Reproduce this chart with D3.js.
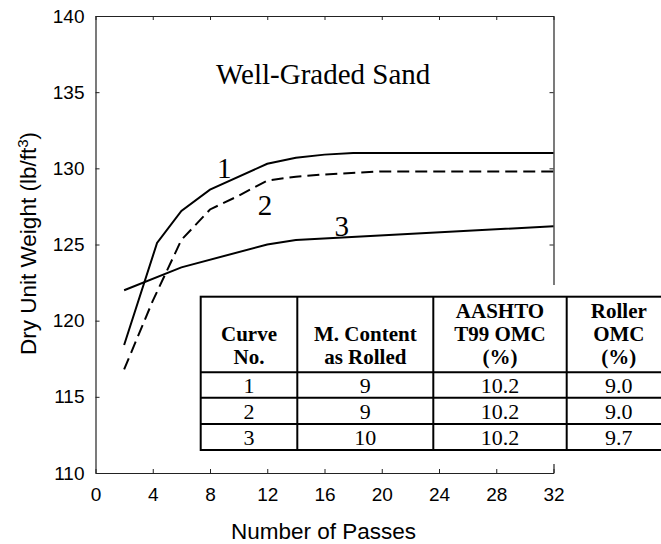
<!DOCTYPE html>
<html>
<head>
<meta charset="utf-8">
<script src="https://cdn.jsdelivr.net/npm/d3@7"></script>
<style>
  html, body { margin: 0; padding: 0; background: #fff; }
  svg { display: block; }
</style>
</head>
<body>
<script>
// ---- data ----
const xTicks = [0, 4, 8, 12, 16, 20, 24, 28, 32];
const yTicks = [110, 115, 120, 125, 130, 135, 140];

const curve1Passes = [2, 4.3, 6, 8, 12, 14, 16, 18, 32];
const curve1Weight = [118.4, 125.1, 127.2, 128.6, 130.3, 130.7, 130.9, 131.0, 131.0];

const curve2Passes = [2, 4, 6, 8, 10, 12, 14, 16, 20, 32];
const curve2Weight = [116.8, 121.3, 125.3, 127.3, 128.2, 129.2, 129.45, 129.6, 129.8, 129.8];

const curve3Passes = [2, 6, 12, 14, 32];
const curve3Weight = [122.0, 123.5, 125.0, 125.3, 126.2];

const curveLabels = ["1", "2", "3"];
const labelPasses = [9.0, 11.85, 17.2];
const labelWeight = [129.35, 126.95, 125.55];

const tableHeaders = [["Curve", "No."], ["M. Content", "as Rolled"], ["AASHTO", "T99 OMC", "(%)"], ["Roller", "OMC", "(%)"]];
const curveNo = ["1", "2", "3"];
const moistureAsRolled = ["9", "9", "10"];
const aashtoOmc = ["10.2", "10.2", "10.2"];
const rollerOmc = ["9.0", "9.0", "9.7"];

// ---- layout ----
const W = 661, H = 544;
const m = { left: 95.5, top: 16, right: 553.5, bottom: 473 };

const svg = d3.select("body").append("svg").attr("width", W).attr("height", H);

const x = d3.scaleLinear().domain([0, 32]).range([m.left, m.right]);
const y = d3.scaleLinear().domain([110, 140]).range([m.bottom, m.top]);

const axisFont = "'Liberation Sans', Arial, sans-serif";
const serif = "'Liberation Serif', 'Times New Roman', serif";

function styleAxis(g) {
  g.selectAll(".domain").attr("stroke", "#222").attr("stroke-width", 1.2);
  g.selectAll(".tick line").attr("stroke", "#222").attr("stroke-width", 1);
  g.selectAll("text").attr("fill", "#000").attr("font-family", axisFont).attr("font-size", 19);
}

// bottom
svg.append("g").attr("transform", `translate(0,${m.bottom})`)
  .call(d3.axisBottom(x).tickValues(xTicks).tickSize(-4).tickSizeOuter(0).tickPadding(15))
  .call(styleAxis);
// top
svg.append("g").attr("transform", `translate(0,${m.top})`)
  .call(d3.axisTop(x).tickValues(xTicks).tickSize(-4).tickSizeOuter(0).tickFormat(""))
  .call(styleAxis);
// left
svg.append("g").attr("transform", `translate(${m.left},0)`)
  .call(d3.axisLeft(y).tickValues(yTicks).tickSize(-4).tickSizeOuter(0).tickPadding(11))
  .call(styleAxis);
// right
svg.append("g").attr("transform", `translate(${m.right},0)`)
  .call(d3.axisRight(y).tickValues(yTicks).tickSize(-4).tickSizeOuter(0).tickFormat(""))
  .call(styleAxis);

// axis titles
svg.append("text")
  .attr("x", (m.left + m.right) / 2 - 1).attr("y", 539)
  .attr("text-anchor", "middle")
  .attr("font-family", axisFont).attr("font-size", 22.5)
  .text("Number of Passes");

const yt = svg.append("text")
  .attr("transform", `translate(35.5,${(m.top + m.bottom) / 2 - 1}) rotate(-90)`)
  .attr("text-anchor", "middle")
  .attr("font-family", axisFont).attr("font-size", 22.5);
yt.append("tspan").text("Dry Unit Weight (lb/ft");
yt.append("tspan").attr("font-size", 15).attr("dy", -8).text("3");
yt.append("tspan").attr("dy", 8).text(")");

// chart title
svg.append("text")
  .attr("x", 216).attr("y", 84)
  .attr("font-family", serif).attr("font-size", 29)
  .text("Well-Graded Sand");

// curves
const line = d3.line().x(d => x(d[0])).y(d => y(d[1]));
const series = [
  { px: curve1Passes, wy: curve1Weight, dash: null },
  { px: curve2Passes, wy: curve2Weight, dash: "12,6" },
  { px: curve3Passes, wy: curve3Weight, dash: null }
];
series.forEach(s => {
  svg.append("path")
    .datum(s.px.map((p, i) => [p, s.wy[i]]))
    .attr("d", line)
    .attr("fill", "none")
    .attr("stroke", "#000")
    .attr("stroke-width", 2)
    .attr("stroke-linejoin", "miter")
    .attr("stroke-dasharray", s.dash);
});

// curve labels
curveLabels.forEach((t, i) => {
  svg.append("text")
    .attr("x", x(labelPasses[i])).attr("y", y(labelWeight[i]))
    .attr("text-anchor", "middle")
    .attr("font-family", serif).attr("font-size", 29)
    .text(t);
});

// ---- table ----
const colEdges = [200.7, 297.3, 433.3, 566.7, 671];
const rowEdges = [296.7, 372.2, 397.7, 424, 450];

svg.append("rect")
  .attr("x", 190).attr("y", 285).attr("width", W - 190).attr("height", 464 - 285)
  .attr("fill", "#fff");

const tbl = svg.append("g");
tbl.append("rect")
  .attr("x", colEdges[0]).attr("y", rowEdges[0])
  .attr("width", colEdges[4] - colEdges[0]).attr("height", rowEdges[4] - rowEdges[0])
  .attr("fill", "none").attr("stroke", "#000").attr("stroke-width", 2);
colEdges.slice(1, 4).forEach(cx => {
  tbl.append("line").attr("x1", cx).attr("x2", cx).attr("y1", rowEdges[0]).attr("y2", rowEdges[4])
    .attr("stroke", "#000").attr("stroke-width", 2);
});
rowEdges.slice(1, 4).forEach(ry => {
  tbl.append("line").attr("x1", colEdges[0]).attr("x2", colEdges[4]).attr("y1", ry).attr("y2", ry)
    .attr("stroke", "#000").attr("stroke-width", 2);
});

// header text (bottom aligned)
tableHeaders.forEach((lines, c) => {
  const cx = (colEdges[c] + colEdges[c + 1]) / 2;
  lines.forEach((ln, k) => {
    tbl.append("text")
      .attr("x", cx).attr("y", 364 - (lines.length - 1 - k) * 23)
      .attr("text-anchor", "middle")
      .attr("font-family", serif).attr("font-weight", "bold").attr("font-size", 21)
      .text(ln);
  });
});

// body rows
const columns = [curveNo, moistureAsRolled, aashtoOmc, rollerOmc];
columns.forEach((col, c) => {
  const cx = (colEdges[c] + colEdges[c + 1]) / 2;
  col.forEach((v, r) => {
    tbl.append("text")
      .attr("x", cx).attr("y", rowEdges[r + 1] + 21)
      .attr("text-anchor", "middle")
      .attr("font-family", serif).attr("font-size", 22)
      .text(v);
  });
});
</script>
</body>
</html>
